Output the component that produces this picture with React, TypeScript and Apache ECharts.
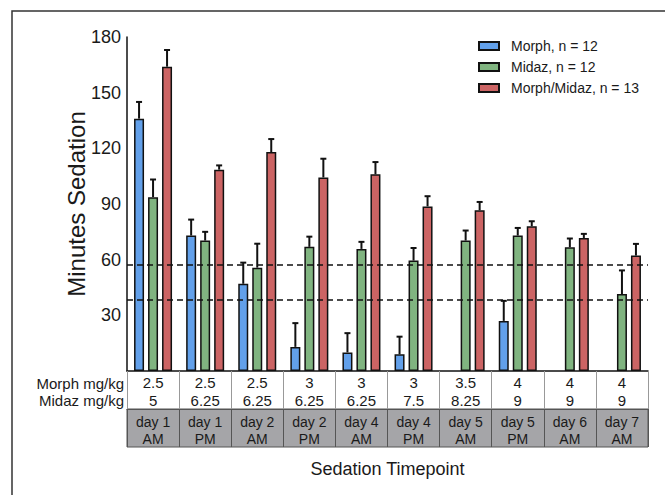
import React, { useEffect, useRef } from 'react';
import * as echarts from 'echarts';

const timepoints = ['day 1\nAM', 'day 1\nPM', 'day 2\nAM', 'day 2\nPM', 'day 4\nAM', 'day 4\nPM', 'day 5\nAM', 'day 5\nPM', 'day 6\nAM', 'day 7\nAM'];
const morphDose = ['2.5', '2.5', '2.5', '3', '3', '3', '3.5', '4', '4', '4'];
const midazDose = ['5', '6.25', '6.25', '6.25', '6.25', '7.5', '8.25', '9', '9', '9'];

const seriesNames = ['Morph, n = 12', 'Midaz, n = 12', 'Morph/Midaz, n = 13'];

const morphMean = [136, 73, 47, 13, 10, 9, null, 27, null, null];
const morphUpper = [145, 81.6, 58.4, 25.8, 20.4, 18.5, null, 37.8, null, null];
const midazMean = [93.7, 70.3, 55.7, 66.9, 65.8, 59.5, 70.3, 73, 66.7, 41.5];
const midazUpper = [103.2, 75, 68.6, 72.4, 69.6, 66.3, 75.7, 77.1, 71.4, 54.2];
const comboMean = [164, 108.5, 118, 104.3, 106, 88.7, 86.6, 78, 71.7, 62.2];
const comboUpper = [173, 110.8, 125, 114.4, 112.6, 94.2, 91.1, 80.7, 73.9, 68.5];

const thresholds = [57, 38.5];
const yTicks = { min: 0, max: 180, interval: 30 };

export default function App() {
  const ref = useRef<HTMLDivElement>(null);
  useEffect(() => {
    document.body.style.margin = '0';
    const chart = echarts.init(ref.current!, null, { renderer: 'svg' });
    const FONT = '"Liberation Sans", Arial, sans-serif';
    const TXT = '#1a1a1a';
    const BW = 10;
    const GAP = 4;
    const colors = ['#62a0ea', '#80b480', '#cc6464'];
    const means = [morphMean, midazMean, comboMean];
    const uppers = [morphUpper, midazUpper, comboUpper];

    const gridLeft = 127;
    const gridRight = 17;
    const gridTop = 37;
    const gridBottom = 124;
    const W = 665;
    const H = 495;
    const axisY = H - gridBottom;
    const rowH = 38;

    const bars = means.map((d, i) => ({
      name: seriesNames[i],
      type: 'bar',
      data: d,
      barWidth: BW,
      barGap: '40%',
      z: 2,
      itemStyle: { color: colors[i], borderColor: '#111', borderWidth: 1.5 },
    }));

    const errs = uppers.map((u, i) => ({
      name: 'err' + i,
      type: 'custom',
      z: 3,
      silent: true,
      data: u
        .map((v, j) => (v == null ? null : [j, means[i][j], v]))
        .filter((x) => x != null),
      encode: { x: 0, y: 2 },
      renderItem: (params: any, api: any) => {
        const j = api.value(0);
        const base = api.coord([j, api.value(1)]);
        const top = api.coord([j, api.value(2)]);
        const x = base[0] + (i - 1) * (BW + GAP);
        return {
          type: 'group',
          children: [
            { type: 'line', shape: { x1: x, y1: base[1], x2: x, y2: top[1] }, style: { stroke: '#111', lineWidth: 2 } },
            { type: 'line', shape: { x1: x - 3, y1: top[1], x2: x + 3, y2: top[1] }, style: { stroke: '#111', lineWidth: 2 } },
          ],
        };
      },
    }));

    const refLines = {
      name: 'ref',
      type: 'line',
      data: [],
      z: 1,
      silent: true,
      markLine: {
        silent: true,
        symbol: ['none', 'none'],
        label: { show: false },
        lineStyle: { color: '#111', type: [6, 4], width: 1.5 },
        data: thresholds.map((t) => ({ yAxis: t })),
      },
    };

    chart.setOption({
      animation: false,
      textStyle: { fontFamily: FONT },
      grid: { left: gridLeft, right: gridRight, top: gridTop, bottom: gridBottom },
      legend: {
        data: seriesNames,
        orient: 'vertical',
        left: 473,
        top: 34,
        itemWidth: 20,
        itemHeight: 8,
        itemGap: 7,
        icon: 'rect',
        textStyle: { fontSize: 14, color: TXT, fontFamily: FONT, padding: [0, 0, 0, 7] },
      },
      xAxis: [
        {
          type: 'category',
          data: timepoints,
          position: 'bottom',
          axisLine: { lineStyle: { color: '#111', width: 1.5 } },
          axisTick: { show: true, length: rowH, lineStyle: { color: '#999', width: 1 } },
          axisLabel: {
            interval: 0,
            margin: 3,
            fontSize: 15,
            lineHeight: 17.5,
            color: TXT,
            fontFamily: FONT,
            formatter: (_v: string, idx: number) => morphDose[idx] + '\n' + midazDose[idx],
          },
        },
        {
          type: 'category',
          data: timepoints,
          position: 'bottom',
          offset: rowH,
          axisLine: { lineStyle: { color: '#555', width: 1 } },
          axisTick: { show: true, length: rowH, lineStyle: { color: '#555', width: 1 } },
          axisLabel: { interval: 0, margin: 5, fontSize: 14, lineHeight: 16.6, color: TXT, fontFamily: FONT },
        },
      ],
      yAxis: {
        type: 'value',
        min: yTicks.min,
        max: yTicks.max,
        interval: yTicks.interval,
        name: 'Minutes Sedation',
        nameLocation: 'middle',
        nameGap: 39,
        nameMoveOverlap: false,
        nameTextStyle: { fontSize: 24, color: TXT, fontFamily: FONT },
        axisLine: { show: true, lineStyle: { color: '#111', width: 1.5 } },
        axisTick: { show: false },
        splitLine: { show: false },
        axisLabel: { showMinLabel: false, fontSize: 18, margin: 6, color: TXT, fontFamily: FONT },
      },
      graphic: [
        {
          type: 'polyline',
          shape: { points: [[12, H], [12, 11], [W, 11]] },
          style: { stroke: '#333', lineWidth: 1.5, fill: null },
        },
        {
          type: 'rect',
          z: -1,
          shape: { x: gridLeft, y: axisY + rowH, width: W - gridLeft - gridRight, height: rowH },
          style: { fill: '#a5a5a8', stroke: '#555', lineWidth: 1 },
        },
        {
          type: 'text',
          x: 124,
          y: axisY + 12,
          style: { text: 'Morph mg/kg', fontSize: 15, fill: TXT, fontFamily: FONT, align: 'right', verticalAlign: 'middle' },
        },
        {
          type: 'text',
          x: 124,
          y: axisY + 29,
          style: { text: 'Midaz mg/kg', fontSize: 15, fill: TXT, fontFamily: FONT, align: 'right', verticalAlign: 'middle' },
        },
        {
          type: 'text',
          x: gridLeft + (W - gridLeft - gridRight) / 2,
          y: 469,
          style: { text: 'Sedation Timepoint', fontSize: 18, fill: TXT, fontFamily: FONT, align: 'center', verticalAlign: 'middle' },
        },
      ],
      series: [refLines, ...bars, ...errs],
    });
    return () => chart.dispose();
  }, []);
  return <div ref={ref} style={{ width: 665, height: 495 }} />;
}
